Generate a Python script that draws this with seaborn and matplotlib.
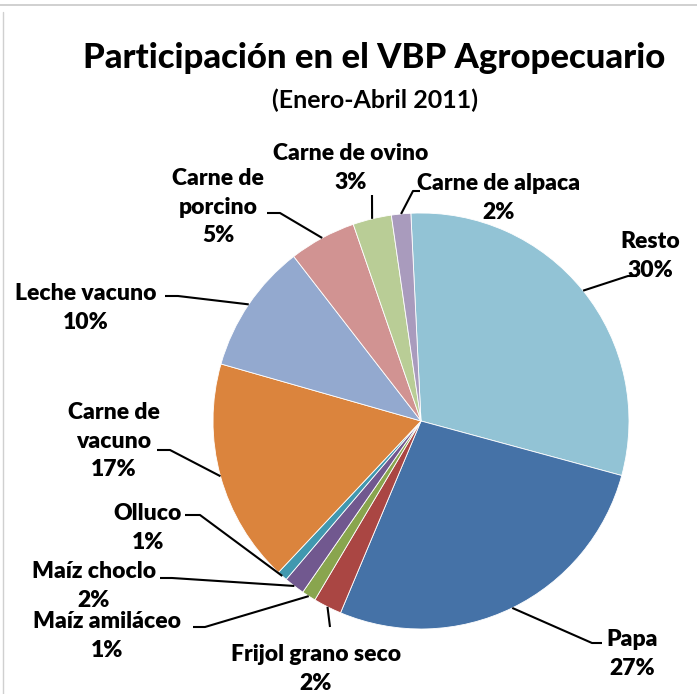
import numpy as np
import matplotlib
matplotlib.use("Agg")
import matplotlib.pyplot as plt
import seaborn as sns

# ── Data ──────────────────────────────────────────────────────
CATEGORIES = ["Resto", "Papa", "Frijol grano seco", "Maíz amiláceo", "Maíz choclo",
              "Olluco", "Carne de vacuno", "Leche vacuno", "Carne de porcino",
              "Carne de ovino", "Carne de alpaca"]
SHARES = [30.0, 27.1, 2.2, 1.1, 1.6, 0.8, 17.4, 10.1, 5.2, 3.0, 1.5]
PCT_LABELS = ["30%", "27%", "2%", "1%", "2%", "1%", "17%", "10%", "5%", "3%", "2%"]
SHOWN_NAMES = ["Resto", "Papa", "Frijol grano seco", "Maíz amiláceo", "Maíz choclo",
               "Olluco", "Carne de\nvacuno", "Leche vacuno", "Carne de\nporcino",
               "Carne de ovino", "Carne de alpaca"]
COLORS = ["#92C3D5", "#4572A7", "#AA4643", "#89A54E", "#71588F", "#4198AF",
          "#DB843D", "#93A9CF", "#D19392", "#B9CD96", "#A99BBD"]

TITLE = "Participación en el VBP Agropecuario"
SUBTITLE = "(Enero-Abril 2011)"

# ── Layout (pixel coordinates, y measured from top) ──────────
W, H = 697, 694
CENTER = (421, 421)
RADIUS = 208
START = 92.8
# label block centre, elbow of leader, end of leader at label
LABEL_POS = [(650, 256), (632, 654), (316, 669), (107, 636), (94, 586),
             (148, 528), (114, 441), (86, 308), (218, 207), (351, 168), (499, 198)]
ELBOW = [(628, 276), (592, 643), (330, 627), (205, 627), (172, 578),
         (200, 515), (170, 450), (178, 296), (280, 213), (372, 195), (413, 191)]
LEAD_END = [(637, 276), (602, 643), (330, 627), (193, 627), (160, 578),
            (185, 515), (157, 450), (165, 296), (267, 213), (372, 195), (420, 191)]

sns.set_theme(style="white")
plt.rcParams["font.family"] = ["Lato", "DejaVu Sans"]


def Y(y):
    return H - y


fig = plt.figure(figsize=(W / 100, H / 100), dpi=100)
ax = fig.add_axes([0, 0, 1, 1])

wedges, _ = ax.pie(SHARES, colors=COLORS, startangle=START, counterclock=False,
                   center=(CENTER[0], Y(CENTER[1])), radius=RADIUS,
                   wedgeprops=dict(edgecolor="white", linewidth=0.6))

ax.set_xlim(0, W)
ax.set_ylim(0, H)
ax.set_aspect("equal")
ax.set_axis_off()

for w, name, pct, pos, elb, end in zip(wedges, SHOWN_NAMES, PCT_LABELS,
                                        LABEL_POS, ELBOW, LEAD_END):
    mid = np.deg2rad((w.theta1 + w.theta2) / 2)
    ax_ = CENTER[0] + RADIUS * np.cos(mid)
    ay_ = Y(CENTER[1]) + RADIUS * np.sin(mid)
    ax.plot([ax_, elb[0], end[0]], [ay_, Y(elb[1]), Y(end[1])],
            color="black", lw=1.5, solid_capstyle="butt")
    ax.text(pos[0], Y(pos[1]), f"{name}\n{pct}", ha="center", va="center",
            fontsize=16.5, fontweight="heavy", linespacing=1.45, color="black")

ax.text(374, Y(58), TITLE, ha="center", va="center", fontsize=25,
        fontweight="black", color="black")
ax.text(375, Y(100), SUBTITLE, ha="center", va="center", fontsize=18,
        fontweight="bold", color="black")

# frame remnants of the spreadsheet screenshot
ax.plot([0, W], [Y(5), Y(5)], color="#C8C8C8", lw=1.2)
ax.plot([3, 3], [Y(12), 0], color="#D0D0D0", lw=1.0)

fig.savefig("out.png", dpi=100, facecolor="white")
